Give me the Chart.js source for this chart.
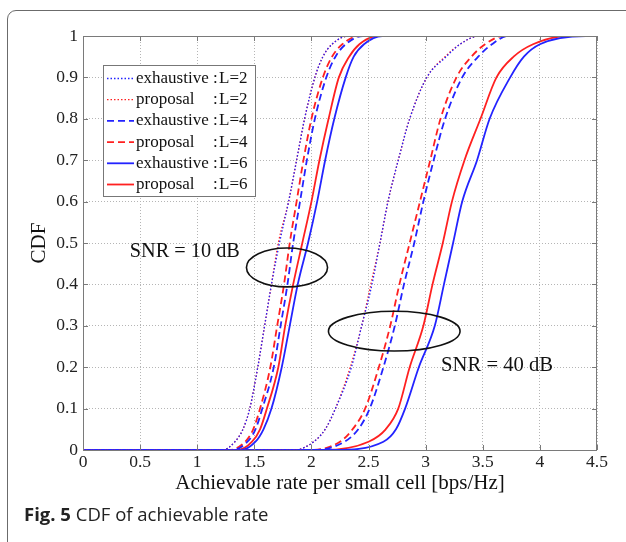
<!DOCTYPE html>
<html><head><meta charset="utf-8">
<script src="https://cdn.jsdelivr.net/npm/chart.js@4/dist/chart.umd.min.js"></script>
<style>
html,body{margin:0;padding:0;background:#fff;width:626px;height:542px;overflow:hidden;}
#frame{position:absolute;left:7px;top:10px;width:700px;height:700px;border:1.5px solid #6b6b6b;border-radius:9px;box-sizing:border-box;}
#c{position:absolute;left:0;top:0;}
#cap{position:absolute;left:24px;top:505px;font-family:'Open Sans';font-size:18.5px;line-height:18px;color:#222;white-space:nowrap;}
#cap b{font-weight:700;}
</style></head><body>
<div id="frame"></div>
<canvas id="c" width="626" height="542"></canvas>
<div id="cap"><b>Fig. 5</b> CDF of achievable rate</div>
<script>
// CDF levels shared by every curve
const cdfLevels = [0, 0, 0.02, 0.05, 0.1, 0.2, 0.3, 0.4, 0.5, 0.6, 0.7, 0.8, 0.9, 0.95, 0.98, 1, 1];
// SNR = 10 dB (rates in bps/Hz at each CDF level)
const exh2_10  = [0, 1.22, 1.33, 1.40, 1.46, 1.53, 1.59, 1.65, 1.72, 1.80, 1.87, 1.94, 2.03, 2.10, 2.18, 2.32, 4.5];
const prop2_10 = [0, 1.22, 1.33, 1.40, 1.46, 1.53, 1.59, 1.65, 1.71, 1.80, 1.87, 1.94, 2.03, 2.10, 2.18, 2.33, 4.5];
const exh4_10  = [0, 1.30, 1.44, 1.51, 1.57, 1.67, 1.73, 1.79, 1.84, 1.90, 1.96, 2.03, 2.13, 2.21, 2.30, 2.45, 4.5];
const prop4_10 = [0, 1.28, 1.42, 1.49, 1.55, 1.64, 1.70, 1.76, 1.81, 1.87, 1.93, 2.00, 2.10, 2.18, 2.27, 2.42, 4.5];
const exh6_10  = [0, 1.38, 1.51, 1.58, 1.65, 1.74, 1.81, 1.88, 1.97, 2.05, 2.12, 2.20, 2.30, 2.37, 2.46, 2.62, 4.5];
const prop6_10 = [0, 1.35, 1.48, 1.55, 1.61, 1.71, 1.77, 1.84, 1.92, 2.00, 2.07, 2.15, 2.24, 2.33, 2.42, 2.58, 4.5];
// SNR = 40 dB
const exh2_40  = [0, 1.85, 2.02, 2.12, 2.21, 2.35, 2.44, 2.53, 2.60, 2.67, 2.76, 2.86, 3.01, 3.18, 3.30, 3.47, 4.5];
const prop2_40 = [0, 1.85, 2.02, 2.12, 2.21, 2.34, 2.44, 2.52, 2.60, 2.67, 2.76, 2.86, 3.01, 3.17, 3.30, 3.47, 4.5];
const exh4_40  = [0, 2.03, 2.29, 2.41, 2.51, 2.63, 2.73, 2.81, 2.90, 2.98, 3.07, 3.17, 3.32, 3.46, 3.58, 3.72, 4.5];
const prop4_40 = [0, 2.00, 2.25, 2.36, 2.47, 2.59, 2.69, 2.77, 2.86, 2.95, 3.04, 3.13, 3.27, 3.40, 3.52, 3.68, 4.5];
const exh6_40  = [0, 2.20, 2.63, 2.74, 2.82, 2.94, 3.08, 3.16, 3.24, 3.32, 3.45, 3.56, 3.74, 3.86, 4.00, 4.40, 4.5];
const prop6_40 = [0, 2.10, 2.50, 2.65, 2.76, 2.86, 2.98, 3.06, 3.15, 3.23, 3.34, 3.48, 3.62, 3.77, 3.94, 4.24, 4.5];

const xTicks = [0, 0.5, 1, 1.5, 2, 2.5, 3, 3.5, 4, 4.5];
const xTickLabels = ['0', '0.5', '1', '1.5', '2', '2.5', '3', '3.5', '4', '4.5'];
const yTicks = [0, 0.1, 0.2, 0.3, 0.4, 0.5, 0.6, 0.7, 0.8, 0.9, 1];
const yTickLabels = ['0', '0.1', '0.2', '0.3', '0.4', '0.5', '0.6', '0.7', '0.8', '0.9', '1'];

const legendLabels = ['exhaustive', 'proposal', 'exhaustive', 'proposal', 'exhaustive', 'proposal'];
const legendL = ['L=2', 'L=2', 'L=4', 'L=4', 'L=6', 'L=6'];

const BLUE = '#2323ff', RED = '#ff2020';
const styles = {
  dot: [1.5, 2],
  dash: [7, 4],
  solid: []
};
function pts(xs) { return xs.map((v, i) => ({ x: v, y: cdfLevels[i] })); }
function ds(xs, color, dash, w) {
  return { data: pts(xs), borderColor: color, borderDash: dash, borderWidth: w,
    pointRadius: 0, fill: false, cubicInterpolationMode: 'monotone' };
}
const series = [
  { xs: exh2_10, c: BLUE, d: styles.dot, w: 1.3 },
  { xs: exh2_40, c: BLUE, d: styles.dot, w: 1.3 },
  { xs: prop2_10, c: RED, d: styles.dot, w: 1.3 },
  { xs: prop2_40, c: RED, d: styles.dot, w: 1.3 },
  { xs: exh4_10, c: BLUE, d: styles.dash, w: 1.8 },
  { xs: exh4_40, c: BLUE, d: styles.dash, w: 1.8 },
  { xs: prop4_10, c: RED, d: styles.dash, w: 1.8 },
  { xs: prop4_40, c: RED, d: styles.dash, w: 1.8 },
  { xs: exh6_10, c: BLUE, d: styles.solid, w: 1.8 },
  { xs: exh6_40, c: BLUE, d: styles.solid, w: 1.8 },
  { xs: prop6_10, c: RED, d: styles.solid, w: 1.8 },
  { xs: prop6_40, c: RED, d: styles.solid, w: 1.8 }
];
const legendStyles = [
  { c: BLUE, d: styles.dot, w: 1.3 }, { c: RED, d: styles.dot, w: 1.3 },
  { c: BLUE, d: styles.dash, w: 1.8 }, { c: RED, d: styles.dash, w: 1.8 },
  { c: BLUE, d: styles.solid, w: 1.8 }, { c: RED, d: styles.solid, w: 1.8 }
];

const SERIF = "'Liberation Serif', 'Times New Roman', serif";

function fitText(ctx, text, x, y, font, width) {
  ctx.save();
  ctx.font = font;
  const m = ctx.measureText(text).width;
  ctx.translate(x, y);
  ctx.scale(width / m, 1);
  ctx.fillText(text, 0, 0);
  ctx.restore();
}

const decor = {
  id: 'decor',
  afterDatasetsDraw(chart) {
    const ctx = chart.ctx, a = chart.chartArea;
    const xs = chart.scales.x, ys = chart.scales.y;
    ctx.save();
    // frame
    ctx.strokeStyle = '#7a7a7a'; ctx.lineWidth = 1; ctx.setLineDash([]);
    ctx.strokeRect(a.left + 0.5, a.top + 0.5, a.right - a.left - 1, a.bottom - a.top);
    // inward ticks
    ctx.beginPath();
    xTicks.forEach(v => {
      const p = Math.round(xs.getPixelForValue(v)) + 0.5;
      ctx.moveTo(p, a.bottom); ctx.lineTo(p, a.bottom - 5);
      ctx.moveTo(p, a.top); ctx.lineTo(p, a.top + 5);
    });
    yTicks.forEach(v => {
      const p = Math.round(ys.getPixelForValue(v)) + 0.5;
      ctx.moveTo(a.left, p); ctx.lineTo(a.left + 5, p);
      ctx.moveTo(a.right, p); ctx.lineTo(a.right - 5, p);
    });
    ctx.stroke();
    // ellipses
    ctx.strokeStyle = '#111'; ctx.lineWidth = 1.6;
    const ell = (cx, cy, rx, ry) => {
      const px = xs.getPixelForValue(cx), py = ys.getPixelForValue(cy);
      const prx = xs.getPixelForValue(cx + rx) - px, pry = py - ys.getPixelForValue(cy + ry);
      ctx.beginPath(); ctx.ellipse(px, py, prx, pry, 0, 0, Math.PI * 2); ctx.stroke();
    };
    ell(1.786, 0.441, 0.355, 0.047);
    ell(2.725, 0.287, 0.576, 0.048);
    // annotation texts
    ctx.fillStyle = '#111'; ctx.textBaseline = 'alphabetic'; ctx.textAlign = 'left';
    fitText(ctx, 'SNR = 10 dB', xs.getPixelForValue(0.41), ys.getPixelForValue(0.466), '21px ' + SERIF, 110);
    fitText(ctx, 'SNR = 40 dB', xs.getPixelForValue(3.135), ys.getPixelForValue(0.19), '21px ' + SERIF, 112);
    // legend
    const lx = a.left + 20, ly = a.top + 29, lw = 152, lh = 131;
    ctx.fillStyle = '#fff'; ctx.fillRect(lx, ly, lw, lh);
    ctx.strokeStyle = '#777'; ctx.lineWidth = 1; ctx.strokeRect(lx + 0.5, ly + 0.5, lw, lh);
    ctx.font = '17px ' + SERIF; ctx.textBaseline = 'middle'; ctx.fillStyle = '#111';
    legendLabels.forEach((lab, i) => {
      const yy = ly + 13.5 + i * 21.2;
      const st = legendStyles[i];
      ctx.strokeStyle = st.c; ctx.lineWidth = st.w; ctx.setLineDash(st.d);
      ctx.beginPath(); ctx.moveTo(lx + 4, yy); ctx.lineTo(lx + 31, yy); ctx.stroke();
      ctx.setLineDash([]);
      ctx.textAlign = 'left';
      ctx.fillText(lab, lx + 33, yy);
      ctx.fillText(':', lx + 110, yy);
      ctx.fillText(legendL[i], lx + 116, yy);
    });
    // axis titles
    ctx.fillStyle = '#111'; ctx.textAlign = 'center'; ctx.textBaseline = 'alphabetic';
    ctx.font = '21px ' + SERIF;
    ctx.fillText('Achievable rate per small cell [bps/Hz]', (a.left + a.right) / 2, 489);
    ctx.save();
    ctx.translate(45, 243); ctx.rotate(-Math.PI / 2);
    ctx.font = '21px ' + SERIF;
    ctx.fillText('CDF', 0, 0);
    ctx.restore();
    ctx.restore();
  }
};

new Chart(document.getElementById('c'), {
  type: 'line',
  data: { datasets: series.map(s => ds(s.xs, s.c, s.d, s.w)) },
  options: {
    responsive: false,
    animation: false,
    layout: { padding: { top: 36, right: 29, left: 0, bottom: 0 } },
    plugins: { legend: { display: false }, tooltip: { enabled: false } },
    scales: {
      x: {
        type: 'linear', min: 0, max: 4.5,
        afterBuildTicks: s => { s.ticks = xTicks.map(v => ({ value: v })); },
        afterFit: s => { s.height = 92; },
        ticks: { callback: (v, i) => xTickLabels[i], color: '#222', font: { family: SERIF, size: 17.5 }, padding: 2, maxRotation: 0, autoSkip: false },
        grid: { color: '#b5b5b5', lineWidth: 1, drawTicks: false },
        border: { display: false, dash: [1, 2] }
      },
      y: {
        type: 'linear', min: 0, max: 1,
        afterBuildTicks: s => { s.ticks = yTicks.map(v => ({ value: v })); },
        afterFit: s => { s.width = 83; },
        ticks: { callback: (v, i) => yTickLabels[i], color: '#222', font: { family: SERIF, size: 17.5 }, padding: 5, autoSkip: false },
        grid: { color: '#b5b5b5', lineWidth: 1, drawTicks: false },
        border: { display: false, dash: [1, 2] }
      }
    }
  },
  plugins: [decor]
});
</script>
</body></html>
